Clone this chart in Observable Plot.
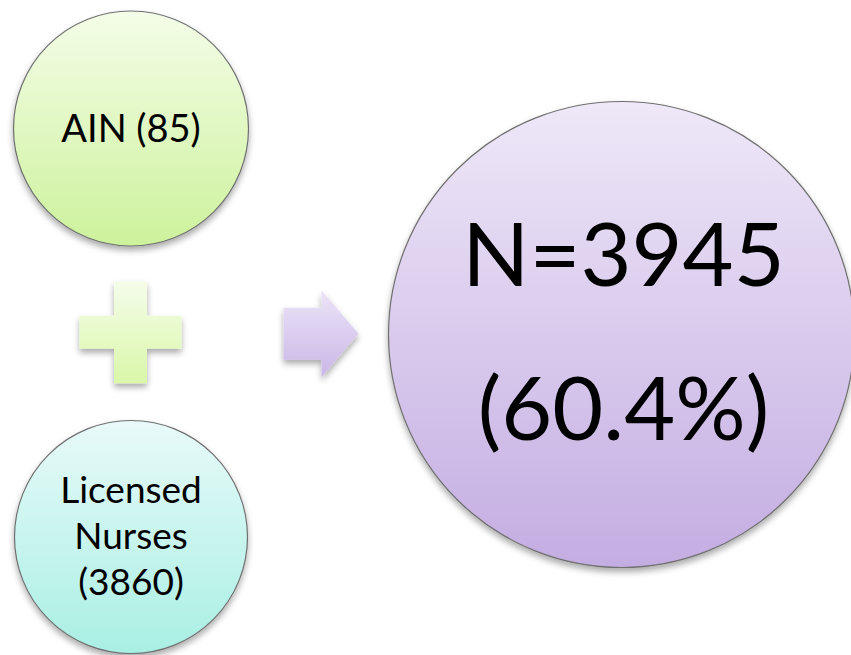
<!DOCTYPE html>
<html>
<head>
<meta charset="utf-8">
<script src="https://cdn.jsdelivr.net/npm/d3@7"></script>
<script src="https://cdn.jsdelivr.net/npm/@observablehq/plot@0.6"></script>
<style>
  html, body { margin: 0; padding: 0; background: #ffffff; }
  #chart svg { display: block; }
</style>
</head>
<body>
<div id="chart"></div>
<script>
// ---- data ----
const groupNames = ["AIN", "Licensed Nurses"];
const groupCounts = [85, 3860];
const totalN = 3945;
const totalPct = 60.4;

// ---- layout (diagram geometry, not data) ----
const W = 851, H = 655;
const inputCircles = [
  {cx: 130.5, cy: 128, r: 117.5, grad: "gGreen"},
  {cx: 130.5, cy: 536.5, r: 116.5, grad: "gCyan"}
];
const resultCircle = {cx: 621, cy: 334, r: 233, grad: "gPurple"};
const fontFam = "Lato, 'Open Sans', sans-serif";

// labels built from data
const inputLabel0 = `${groupNames[0]} (${groupCounts[0]})`;
const inputLines1 = [...groupNames[1].split(" "), `(${groupCounts[1]})`];
const resultLines = [`N=${totalN}`, `(${totalPct.toFixed(1)}%)`];

// plus sign placed midway between the two input circles
const pc = {x: inputCircles[0].cx, y: (inputCircles[0].cy + inputCircles[1].cy) / 2};
const armHalf = 51, thickHalf = 16.5;
const plusRects = [
  {x1: pc.x - thickHalf, x2: pc.x + thickHalf, y1: pc.y - armHalf, y2: pc.y + armHalf},
  {x1: pc.x - armHalf, x2: pc.x + armHalf, y1: pc.y - thickHalf, y2: pc.y + thickHalf}
];

// arrow between plus and result circle
const ay = pc.y + 1;
const ax0 = 283, axNeck = 321, axTip = 358, bodyHalf = 26, headHalf = 43.5;
const arrowPts = [
  [ax0, ay - bodyHalf], [axNeck, ay - bodyHalf], [axNeck, ay - headHalf], [axTip, ay],
  [axNeck, ay + headHalf], [axNeck, ay + bodyHalf], [ax0, ay + bodyHalf]
];

const marks = [];
inputCircles.forEach((c) => {
  marks.push(Plot.dot([c], {x: "cx", y: "cy", r: c.r, fill: `url(#${c.grad})`, stroke: "#707070", strokeWidth: 1.2}));
});
marks.push(Plot.dot([resultCircle], {x: "cx", y: "cy", r: resultCircle.r, fill: `url(#${resultCircle.grad})`, stroke: "#707070", strokeWidth: 1.2}));
marks.push(Plot.rect(plusRects, {x1: "x1", x2: "x2", y1: "y1", y2: "y2", fill: "url(#gPlus)"}));
marks.push(Plot.line(arrowPts, {x: d => d[0], y: d => d[1], fill: "url(#gArrow)", stroke: "none"}));

// input labels
marks.push(Plot.text([{x: inputCircles[0].cx, y: inputCircles[0].cy + 1, t: inputLabel0}],
  {x: "x", y: "y", text: "t", fontSize: 38, fontFamily: fontFam, fill: "#000", lineAnchor: "middle"}));
const lineGap = 46;
marks.push(Plot.text(inputLines1.map((t, i) => ({x: inputCircles[1].cx, y: inputCircles[1].cy + (i - 1) * lineGap, t})),
  {x: "x", y: "y", text: "t", fontSize: 37, fontFamily: fontFam, fill: "#000", lineAnchor: "middle"}));
// result labels
marks.push(Plot.text([
  {x: resultCircle.cx + 2, y: resultCircle.cy - 77, t: resultLines[0]},
  {x: resultCircle.cx + 2, y: resultCircle.cy + 77, t: resultLines[1]}
], {x: "x", y: "y", text: "t", fontSize: 88, fontFamily: fontFam, fill: "#000", lineAnchor: "middle"}));

const svg = Plot.plot({
  width: W, height: H, margin: 0,
  x: {type: "identity", axis: null},
  y: {type: "identity", axis: null},
  style: {background: "#ffffff", overflow: "visible"},
  marks
});

// gradients and shadow
const defs = d3.select(svg).insert("defs", ":first-child");
function vgrad(id, c0, c1, units, y1, y2) {
  const g = defs.append("linearGradient").attr("id", id).attr("x1", 0).attr("x2", 0);
  if (units) { g.attr("gradientUnits", "userSpaceOnUse").attr("y1", y1).attr("y2", y2); }
  else { g.attr("y1", 0).attr("y2", 1); }
  g.append("stop").attr("offset", "0%").attr("stop-color", c0);
  g.append("stop").attr("offset", "100%").attr("stop-color", c1);
}
vgrad("gGreen", "#f4fde8", "#cdf29c");
vgrad("gCyan", "#e8faf9", "#a9efe3");
vgrad("gPurple", "#eee8f8", "#c4ade2");
vgrad("gPlus", "#f5fdea", "#d9f7a9", true, pc.y - armHalf, pc.y + armHalf);
vgrad("gArrow", "#ebe5f7", "#cab6e7", true, ay - headHalf, ay + headHalf);
const f = defs.append("filter").attr("id", "shadow").attr("x", "-20%").attr("y", "-20%").attr("width", "140%").attr("height", "140%");
f.append("feDropShadow").attr("dx", 0).attr("dy", 4).attr("stdDeviation", 3)
  .attr("flood-color", "#000").attr("flood-opacity", 0.33);
d3.select(svg).selectAll('g[aria-label="dot"], g[aria-label="rect"], g[aria-label="line"]').attr("filter", "url(#shadow)");

document.getElementById("chart").appendChild(svg);
</script>
</body>
</html>
